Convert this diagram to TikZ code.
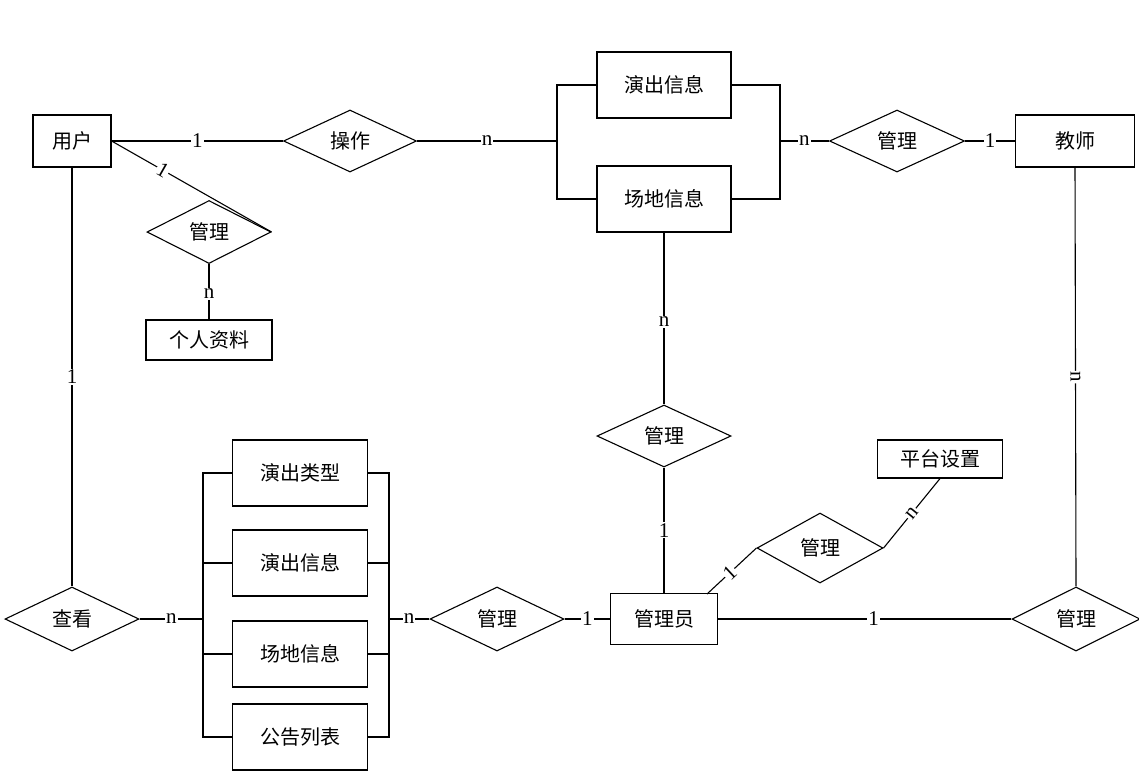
\documentclass[tikz,border=0pt]{standalone}
\usepackage{fontspec}
\setmainfont{Liberation Serif}
\newfontfamily\cjk{Noto Sans CJK SC}
\usetikzlibrary{shapes.geometric}
\begin{document}
\begin{tikzpicture}[x=1pt,y=-1pt,line width=1.1pt,
  ent/.style={draw,inner sep=0pt,font=\cjk\fontsize{20}{20}\selectfont},
  rel/.style={draw,diamond,inner sep=0pt,aspect=2,font=\cjk\fontsize{20}{20}\selectfont},
  lab/.style={fill=white,inner sep=1pt,font=\fontsize{21}{21}\selectfont}]
\useasboundingbox (0,0) rectangle (1139,772);
% entities and relations
\node[ent,minimum width=78,minimum height=52] (user) at (72,141) {用户};
\node[rel,minimum width=133,minimum height=62] (op) at (350,141) {操作};
\node[ent,minimum width=134,minimum height=66] (show1) at (664,85) {演出信息};
\node[ent,minimum width=134,minimum height=66] (venue1) at (664,199) {场地信息};
\node[rel,minimum width=135,minimum height=62] (mg1) at (897,141) {管理};
\node[ent,minimum width=119,minimum height=52] (teacher) at (1075,141) {教师};
\node[rel,minimum width=124,minimum height=63] (mg2) at (209,232) {管理};
\node[ent,minimum width=126,minimum height=40] (profile) at (209,340) {个人资料};
\node[rel,minimum width=134,minimum height=64] (view) at (72,619) {查看};
\node[ent,minimum width=135,minimum height=66] (type) at (300,473) {演出类型};
\node[ent,minimum width=135,minimum height=66] (show2) at (300,563) {演出信息};
\node[ent,minimum width=135,minimum height=66] (venue2) at (300,654) {场地信息};
\node[ent,minimum width=135,minimum height=66] (notice) at (300,737) {公告列表};
\node[rel,minimum width=134,minimum height=64] (mg3) at (497,619) {管理};
\node[ent,minimum width=107,minimum height=51] (admin) at (664,619) {管理员};
\node[rel,minimum width=134,minimum height=62] (mg4) at (664,436) {管理};
\node[rel,minimum width=126,minimum height=70] (mg5) at (820,548) {管理};
\node[ent,minimum width=125,minimum height=38] (platform) at (940,459) {平台设置};
\node[rel,minimum width=128,minimum height=64] (mg6) at (1076,619) {管理};
% bracket points
\coordinate (bL1) at (557,141);
\coordinate (bR1) at (780,141);
\coordinate (bL2) at (203,619);
\coordinate (bR2) at (389,619);
\coordinate (adm) at (707,594);
% brackets
\draw (show1.west) -| (bL1) |- (venue1.west);
\draw (show1.east) -| (bR1) |- (venue1.east);
\draw (type.west) -| (bL2) |- (notice.west);
\draw (show2.west) -- (bL2 |- show2.west);
\draw (venue2.west) -- (bL2 |- venue2.west);
\draw (type.east) -| (bR2) |- (notice.east);
\draw (show2.east) -- (bR2 |- show2.east);
\draw (venue2.east) -- (bR2 |- venue2.east);
% connectors
\draw (user.east) -- node[lab]{1} (op.west);
\draw (op.east) -- node[lab]{n} (bL1);
\draw (bR1) -- node[lab]{n} (mg1.west);
\draw (mg1.east) -- node[lab]{1} (teacher.west);
\draw (user.east) -- node[lab,sloped,pos=0.32]{1} (mg2.east);
\draw (mg2.south) -- node[lab,pos=0.54]{n} (profile.north);
\draw (user.south) -- node[lab]{1} (view.north);
\draw (view.east) -- node[lab]{n} (bL2);
\draw (bR2) -- node[lab]{n} (mg3.west);
\draw (mg3.east) -- node[lab]{1} (admin.west);
\draw (admin.north) -- node[lab]{1} (mg4.south);
\draw (mg4.north) -- node[lab,pos=0.48]{n} (venue1.south);
\draw (adm) -- node[lab,sloped,pos=0.46]{1} (mg5.west);
\draw (mg5.east) -- node[lab,sloped]{n} (platform.south);
\draw (admin.east) -- node[lab,pos=0.53]{1} (mg6.west);
\draw (mg6.north) -- node[lab,sloped]{n} (teacher.south);
\end{tikzpicture}
\end{document}
